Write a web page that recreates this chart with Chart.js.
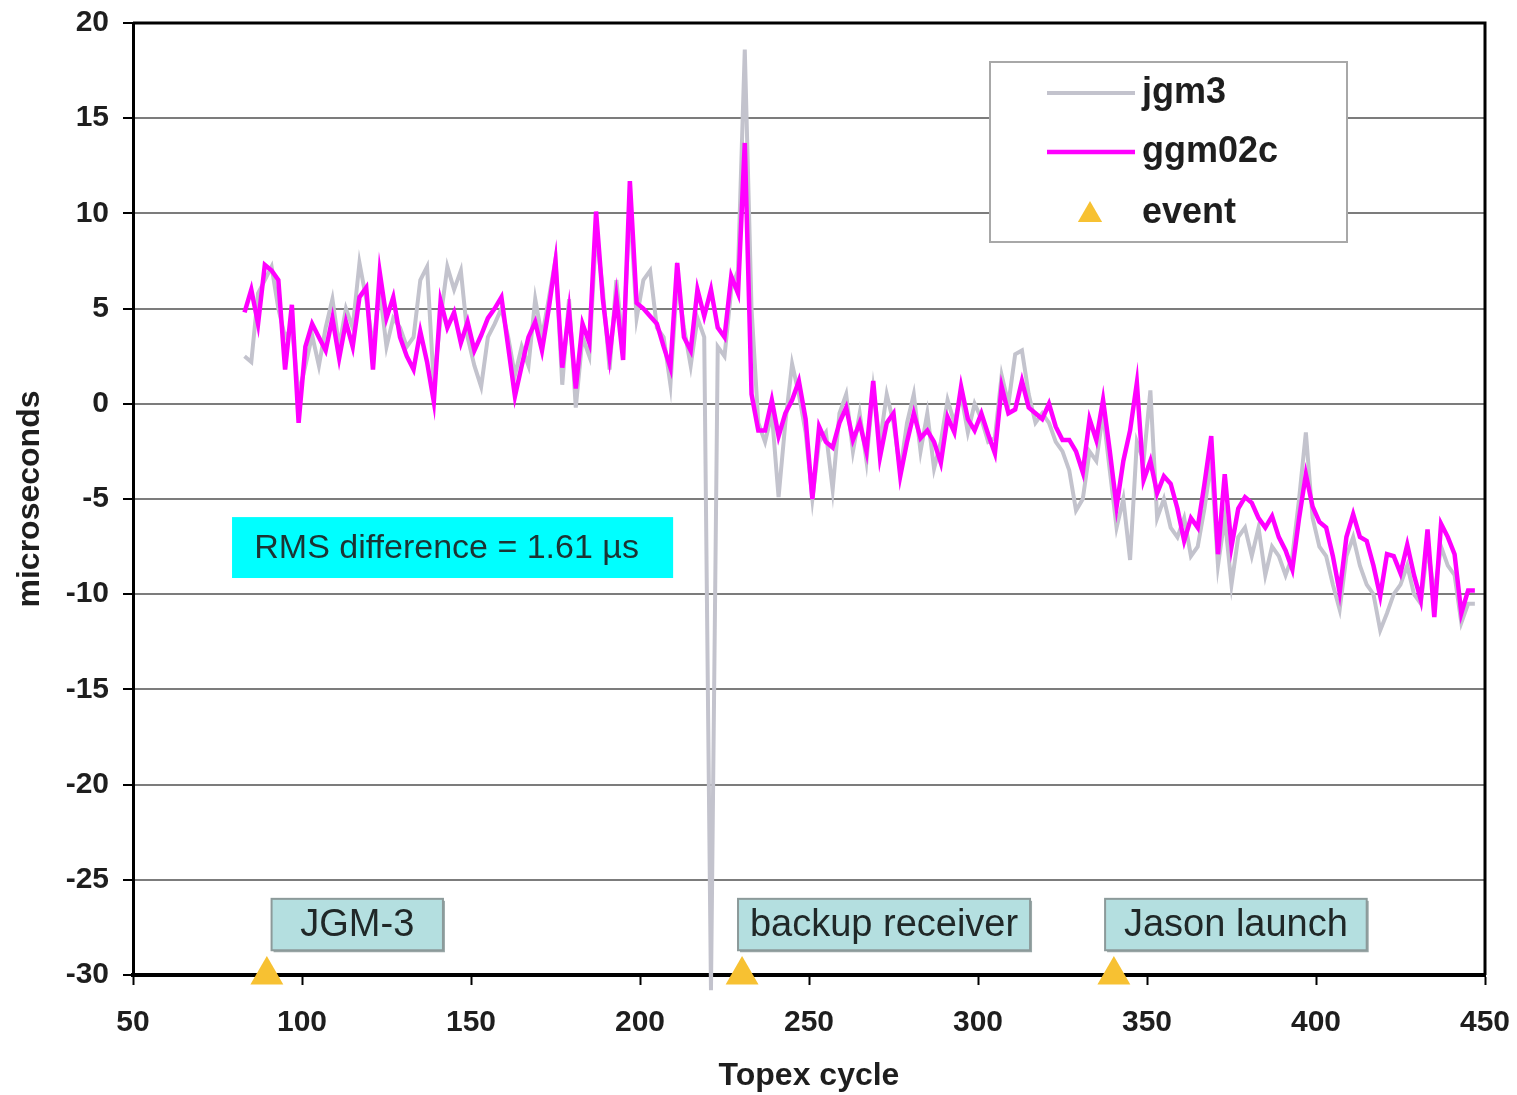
<!DOCTYPE html>
<html>
<head>
<meta charset="utf-8">
<title>Topex cycle: jgm3 vs ggm02c</title>
<script src="https://cdn.jsdelivr.net/npm/chart.js@4"></script>
<style>
  html, body { margin: 0; padding: 0; background: #fff; overflow: hidden; }
  #wrap { width: 1517px; height: 1095px; }
</style>
</head>
<body>
<div id="wrap"><canvas id="chart"></canvas></div>
<script>
// samples start at cycle 83, one every 2 cycles
const firstCycle = 83;
const cycleStep = 2;

const jgm3 = [
  2.5, 2.2, 5.8, 6.5, 7.2, 5.0, 3.5, 4.0, 0.5, 2.0,
  3.6, 2.0, 4.0, 5.5, 3.0, 5.0, 4.0, 7.4, 5.5, 3.0,
  6.0, 3.0, 4.5, 4.0, 3.0, 3.5, 6.5, 7.2, 1.0, 4.5,
  7.2, 6.0, 7.0, 3.5, 2.0, 0.9, 3.5, 4.2, 5.0, 3.5,
  1.5, 3.0, 2.0, 5.5, 3.5, 5.5, 7.6, 1.0, 5.5, -0.2,
  3.5, 2.5, 9.0, 6.0, 1.8, 6.5, 3.0, 10.5, 4.5, 6.5,
  7.0, 4.0, 3.5, 1.0, 6.5, 4.0, 2.0, 4.5, 3.5, -30.8,
  3.0, 2.5, 6.0, 7.0, 18.6, 5.0, -1.0, -2.0, -0.5, -4.9,
  -1.0, 2.1, 0.5, -1.5, -5.0, -2.0, -1.5, -4.5, -0.5, 0.5,
  -2.5, -0.5, -3.0, 0.8, -2.0, 0.5, -1.0, -3.5, -1.0, 0.5,
  -2.5, -0.5, -3.4, -2.0, 0.2, -1.0, 0.5, -1.5, 0.0, -0.8,
  -2.0, -1.8, 1.5, 0.0, 2.6, 2.8, 0.5, -1.0, -0.5, -1.0,
  -2.0, -2.5, -3.5, -5.6, -5.0, -2.5, -3.0, -0.5, -3.5, -6.5,
  -5.0, -8.2, -2.0, -3.0, 0.7, -6.0, -5.0, -6.5, -7.0, -6.0,
  -8.0, -7.5, -5.5, -3.0, -8.5, -6.0, -9.5, -7.0, -6.5, -8.0,
  -6.5, -9.0, -7.5, -8.0, -9.0, -8.0, -5.0, -1.5, -6.0, -7.5,
  -8.0, -9.5, -10.8, -8.0, -7.0, -8.5, -9.5, -10.0, -11.9, -11.0,
  -10.0, -9.5, -8.5, -10.0, -10.5, -7.5, -10.0, -7.5, -8.5, -9.0,
  -11.5, -10.5, -10.5
];

const ggm02c = [
  4.8, 6.0, 4.2, 7.3, 7.0, 6.5, 1.8, 5.2, -1.0, 3.0,
  4.2, 3.5, 2.8, 4.5, 2.4, 4.3, 3.0, 5.6, 6.1, 1.8,
  6.9, 4.5, 5.6, 3.5, 2.5, 1.8, 3.8, 2.2, 0.1, 5.4,
  4.0, 4.8, 3.2, 4.3, 2.8, 3.6, 4.5, 5.0, 5.6, 3.0,
  0.4, 2.0, 3.5, 4.3, 2.8, 5.0, 7.5, 1.9, 4.9, 0.8,
  4.2, 3.2, 10.1, 5.5, 2.5, 5.6, 2.3, 11.7, 5.3, 5.0,
  4.6, 4.2, 3.0, 1.9, 7.4, 3.5, 2.8, 6.0, 4.6, 6.0,
  4.0, 3.5, 6.7, 5.8, 13.7, 0.5, -1.4, -1.4, 0.2, -1.7,
  -0.5, 0.2, 1.2, -0.8, -5.0, -1.2, -2.0, -2.3, -1.0, -0.2,
  -1.9, -1.0, -2.5, 1.2, -2.8, -1.0, -0.5, -3.8, -2.0, -0.5,
  -1.8, -1.4, -2.0, -3.1, -0.7, -1.5, 0.9, -0.8, -1.4, -0.5,
  -1.6, -2.6, 0.9, -0.5, -0.3, 1.2, -0.2, -0.5, -0.8, 0.0,
  -1.2, -1.9, -1.9, -2.5, -3.6, -0.8, -1.9, 0.2, -2.5, -5.4,
  -3.0, -1.4, 1.1, -4.0, -3.0, -4.7, -3.8, -4.2, -5.5, -7.2,
  -6.0, -6.5, -4.2, -1.7, -7.9, -3.7, -7.5, -5.5, -4.9, -5.2,
  -6.0, -6.5, -5.9, -7.0, -7.7, -8.7, -6.0, -3.7, -5.4, -6.2,
  -6.5, -8.0, -9.9, -7.0, -5.8, -7.0, -7.2, -8.5, -10.1, -7.9,
  -8.0, -8.9, -7.4, -9.0, -10.3, -6.6, -11.2, -6.3, -7.0, -7.9,
  -11.0, -9.8, -9.8
];

const eventCycles = [89.6, 230.2, 340.2];
const eventLabels = ['JGM-3', 'backup receiver', 'Jason launch'];
const eventLevel = -30;

const xTicks = [50, 100, 150, 200, 250, 300, 350, 400, 450];
const yTicks = [-30, -25, -20, -15, -10, -5, 0, 5, 10, 15, 20];

const rmsText = 'RMS difference = 1.61 \u00b5s';

// annotation boxes, in data units
const eventBoxes = [
  { x0: 91, x1: 141.7 },
  { x0: 229, x1: 315.4 },
  { x0: 337.6, x1: 415 }
];
const eventBoxY = { top: -26.0, bottom: -28.7 };
const rmsBox = { x0: 79.3, x1: 209.8, top: -5.95, bottom: -9.15 };

const FONT = "'Liberation Sans', Arial, sans-serif";
const TEXT = '#1e1e1e';
const MAGENTA = '#ff00ff';
const GREY = '#c3c3cd';
const GOLD = '#f7c132';

const toPoints = vals => vals.map((v, i) => ({ x: firstCycle + i * cycleStep, y: v }));

function triangle(ctx, cx, cy, r) {
  ctx.beginPath();
  ctx.moveTo(cx, cy - r);
  ctx.lineTo(cx + r * Math.sqrt(3) / 2, cy + r / 2);
  ctx.lineTo(cx - r * Math.sqrt(3) / 2, cy + r / 2);
  ctx.closePath();
  ctx.fill();
}

// let the layout padding alone decide where the plot box sits
const noScalePadding = s => {
  s.paddingLeft = 0; s.paddingRight = 0;
  s.paddingTop = 0; s.paddingBottom = 0;
};

const extras = {
  id: 'extras',
  beforeDatasetsDraw(chart) {
    const { ctx, chartArea: a } = chart;
    ctx.save();
    ctx.strokeStyle = '#000';
    ctx.lineWidth = 3;
    ctx.beginPath();
    ctx.moveTo(a.left, a.top);
    ctx.lineTo(a.right, a.top);
    ctx.lineTo(a.right, a.bottom);
    ctx.stroke();
    ctx.restore();
  },
  afterDatasetsDraw(chart) {
    const { ctx, scales: { x, y } } = chart;
    ctx.save();

    // cyan RMS note
    const rx0 = x.getPixelForValue(rmsBox.x0), rx1 = x.getPixelForValue(rmsBox.x1);
    const ry0 = y.getPixelForValue(rmsBox.top), ry1 = y.getPixelForValue(rmsBox.bottom);
    ctx.fillStyle = '#00ffff';
    ctx.fillRect(rx0, ry0, rx1 - rx0, ry1 - ry0);
    ctx.fillStyle = '#1c3434';
    ctx.font = '34px ' + FONT;
    ctx.textAlign = 'center';
    ctx.textBaseline = 'middle';
    ctx.fillText(rmsText, (rx0 + rx1) / 2 - 6, (ry0 + ry1) / 2 + 1);

    // event label boxes
    const by0 = y.getPixelForValue(eventBoxY.top), by1 = y.getPixelForValue(eventBoxY.bottom);
    ctx.font = '38px ' + FONT;
    eventBoxes.forEach((b, i) => {
      const bx0 = x.getPixelForValue(b.x0), bx1 = x.getPixelForValue(b.x1);
      ctx.fillStyle = '#9aa8a8';
      ctx.fillRect(bx0 + 2, by0 + 2, bx1 - bx0, by1 - by0);
      ctx.fillStyle = '#b4dfe0';
      ctx.fillRect(bx0, by0, bx1 - bx0, by1 - by0);
      ctx.strokeStyle = '#8c9a9a';
      ctx.lineWidth = 2;
      ctx.strokeRect(bx0, by0, bx1 - bx0, by1 - by0);
      ctx.fillStyle = '#202828';
      ctx.fillText(eventLabels[i], (bx0 + bx1) / 2, (by0 + by1) / 2 + 1);
    });
    ctx.restore();
  },
  afterDraw(chart) {
    const { ctx } = chart;
    const ds = chart.data.datasets;
    ctx.save();
    // legend box
    ctx.fillStyle = '#fff';
    ctx.fillRect(990, 62, 357, 180);
    ctx.strokeStyle = '#a8a8a8';
    ctx.lineWidth = 2;
    ctx.strokeRect(990, 62, 357, 180);

    const rows = [93, 152, 213];
    ctx.font = 'bold 36px ' + FONT;
    ctx.textAlign = 'left';
    ctx.textBaseline = 'middle';
    ds.forEach((d, i) => {
      const yy = rows[i];
      if (d.showLine === false) {
        ctx.fillStyle = d.pointBackgroundColor;
        triangle(ctx, 1090, yy + 2, 14);
      } else {
        ctx.strokeStyle = d.borderColor;
        ctx.lineWidth = d.borderWidth;
        ctx.beginPath();
        ctx.moveTo(1047, yy);
        ctx.lineTo(1135, yy);
        ctx.stroke();
      }
      ctx.fillStyle = TEXT;
      ctx.fillText(d.label, 1142, yy);
    });
    ctx.restore();
  }
};

new Chart(document.getElementById('chart'), {
  type: 'line',
  data: {
    datasets: [
      {
        label: 'jgm3',
        data: toPoints(jgm3),
        borderColor: GREY,
        borderWidth: 4,
        pointRadius: 0,
        tension: 0,
        clip: false,
        order: 2
      },
      {
        label: 'ggm02c',
        data: toPoints(ggm02c),
        borderColor: MAGENTA,
        borderWidth: 4.5,
        pointRadius: 0,
        tension: 0,
        order: 1
      },
      {
        label: 'event',
        data: eventCycles.map(c => ({ x: c, y: eventLevel })),
        showLine: false,
        pointStyle: 'triangle',
        pointRadius: 19,
        pointBackgroundColor: GOLD,
        pointBorderColor: GOLD,
        pointBorderWidth: 0,
        clip: false,
        order: 0
      }
    ]
  },
  options: {
    responsive: true,
    maintainAspectRatio: false,
    animation: false,
    layout: { padding: { top: 23, right: 32, left: 0, bottom: 0 } },
    plugins: {
      legend: { display: false },
      tooltip: { enabled: false }
    },
    scales: {
      x: {
        type: 'linear',
        min: 50,
        max: 450,
        afterFit: s => { s.height = 120; noScalePadding(s); },
        afterBuildTicks: s => { s.ticks = xTicks.map(v => ({ value: v })); },
        ticks: { font: { family: FONT, size: 30, weight: 'bold' }, color: TEXT, padding: 20, maxRotation: 0 },
        grid: { drawOnChartArea: false, tickLength: 10, tickColor: '#000', tickWidth: 2 },
        border: { color: '#000', width: 4 },
        title: { display: true, text: 'Topex cycle', font: { family: FONT, size: 32, weight: 'bold' }, color: TEXT, padding: { top: 0, bottom: 0 } }
      },
      y: {
        min: -30,
        max: 20,
        afterFit: s => { s.width = 133; noScalePadding(s); },
        afterBuildTicks: s => { s.ticks = yTicks.map(v => ({ value: v })); },
        ticks: { font: { family: FONT, size: 30, weight: 'bold' }, color: TEXT, padding: 14 },
        grid: { color: '#7c7c7c', lineWidth: 2, tickLength: 10, tickColor: '#000', tickWidth: 2 },
        border: { color: '#000', width: 3 },
        title: { display: true, text: 'microseconds', font: { family: FONT, size: 32, weight: 'bold' }, color: TEXT, padding: { top: 11, bottom: 0 } }
      }
    }
  },
  plugins: [extras]
});
</script>
</body>
</html>
